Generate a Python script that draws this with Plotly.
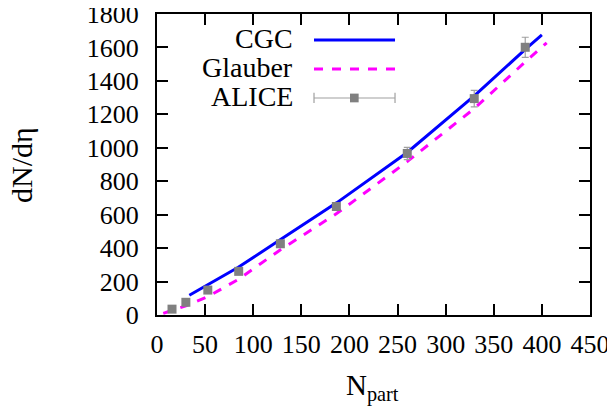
import plotly.graph_objects as go

# ALICE data
alice_npart = [382.7, 329.7, 260.1, 186.4, 128.2, 84.9, 52.8, 30.0, 15.6]
alice_dndeta = [1601, 1294, 966, 649, 426, 261, 149, 76, 35]
alice_err = [60, 49, 37, 23, 15, 9, 6, 4, 2]

# CGC curve
cgc_npart = [33.6, 53, 84.5, 128, 187, 260, 330, 383, 400]
cgc_dndeta = [118, 180, 285, 450, 672, 972, 1312, 1590, 1675]

# Glauber curve
gl_npart = [6.5, 30, 53, 84.5, 128, 187, 260, 330, 383, 405]
gl_dndeta = [10, 55, 110, 213, 389, 608, 917, 1236, 1515, 1628]

x_ticks = [0, 50, 100, 150, 200, 250, 300, 350, 400, 450]
y_ticks = [0, 200, 400, 600, 800, 1000, 1200, 1400, 1600, 1800]

FONT = "Liberation Serif"
BLUE = "#0000ff"
MAG = "#ff00ff"
GREY = "#808080"
ERRC = "#a0a0a0"

fig = go.Figure()
fig.add_trace(go.Scatter(x=cgc_npart, y=cgc_dndeta, mode="lines",
                         line=dict(color=BLUE, width=3), showlegend=False))
fig.add_trace(go.Scatter(x=gl_npart, y=gl_dndeta, mode="lines",
                         line=dict(color=MAG, width=3, dash="dash"), showlegend=False))
fig.add_trace(go.Scatter(x=alice_npart, y=alice_dndeta, mode="markers",
                         marker=dict(symbol="square", size=9, color=GREY),
                         error_y=dict(type="data", array=alice_err, color=ERRC,
                                      thickness=1.2, width=3.5),
                         showlegend=False))

# manual legend (text right-aligned, sample to the right)
leg = [("CGC", 0.919), ("Glauber", 0.823), ("ALICE", 0.726)]
x_text = 0.3187
x0, x1 = 0.3626, 0.5497
for name, yy in leg:
    fig.add_annotation(x=x_text, y=yy, xref="paper", yref="paper", text=name,
                       showarrow=False, xanchor="right", yanchor="middle",
                       font=dict(family=FONT, size=28, color="black"))
ly = [0.9136, 0.817, 0.721]
fig.add_shape(type="line", xref="paper", yref="paper", x0=x0, x1=x1, y0=ly[0], y1=ly[0],
              line=dict(color=BLUE, width=3))
fig.add_shape(type="line", xref="paper", yref="paper", x0=x0, x1=x1, y0=ly[1], y1=ly[1],
              line=dict(color=MAG, width=3, dash="dash"))
fig.add_shape(type="line", xref="paper", yref="paper", x0=x0, x1=x1, y0=ly[2], y1=ly[2],
              line=dict(color=ERRC, width=1.2))
for xx in (x0, x1):
    fig.add_shape(type="line", xref="paper", yref="paper", x0=xx, x1=xx,
                  y0=ly[2] - 0.017, y1=ly[2] + 0.017, line=dict(color=ERRC, width=1.2))
xm = 0.4557
fig.add_shape(type="rect", xref="paper", yref="paper",
              x0=xm - 0.0100, x1=xm + 0.0100, y0=ly[2] - 0.0145, y1=ly[2] + 0.0145,
              fillcolor=GREY, line=dict(width=0))

# axis titles as annotations
fig.add_annotation(x=-0.313, y=0.5, xref="paper", yref="paper", text="dN/dη",
                   textangle=-90, showarrow=False, xanchor="center", yanchor="middle",
                   font=dict(family=FONT, size=30, color="black"))
fig.add_annotation(x=0.497, y=-0.172, xref="paper", yref="paper", text="N<sub>part</sub>",
                   showarrow=False, xanchor="center", yanchor="top",
                   font=dict(family=FONT, size=29, color="black"))

axis_common = dict(showline=True, linecolor="black", linewidth=2, mirror="allticks",
                   ticks="inside", ticklen=11, tickwidth=1.5, tickcolor="black",
                   showgrid=False, zeroline=False, automargin=False,
                   ticklabeloverflow="allow",
                   tickfont=dict(family=FONT, size=26, color="black"))

fig.update_layout(
    width=615, height=410,
    margin=dict(l=149, r=33, t=6, b=103),
    paper_bgcolor="white", plot_bgcolor="white",
    xaxis=dict(range=[0, 450], tickvals=x_ticks, ticklabelstandoff=5, **axis_common),
    yaxis=dict(range=[0, 1800], tickvals=y_ticks, ticklabelstandoff=11, **axis_common),
    showlegend=False,
)

fig.write_html("out.html")
